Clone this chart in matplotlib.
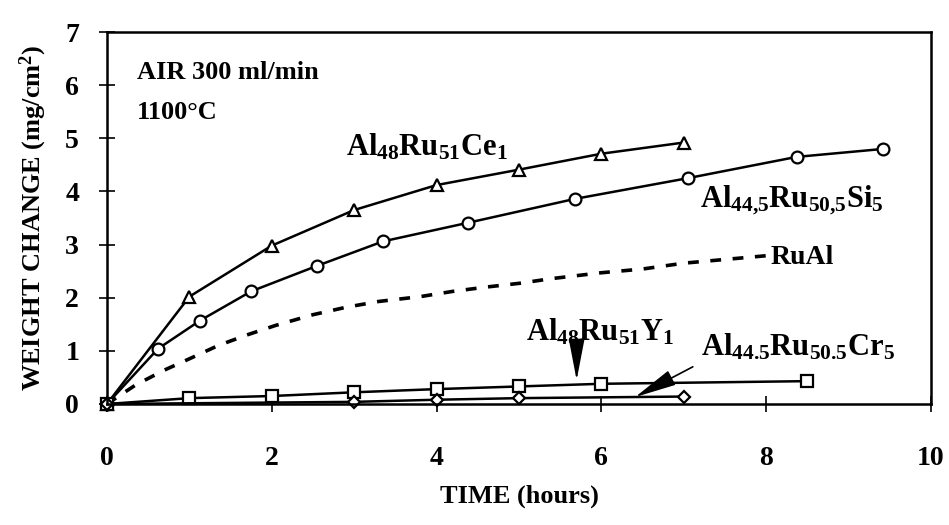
import matplotlib
matplotlib.use("Agg")
import matplotlib.pyplot as plt

plt.rcParams['font.family'] = ['Liberation Serif', 'DejaVu Serif']
plt.rcParams['font.weight'] = 'bold'
plt.rcParams['mathtext.fontset'] = 'custom'
plt.rcParams['mathtext.rm'] = 'Liberation Serif:bold'
plt.rcParams['mathtext.it'] = 'Liberation Serif:bold'
plt.rcParams['mathtext.bf'] = 'Liberation Serif:bold'

# values
ce_t = [0, 1, 2, 3, 4, 5, 6, 7]
ce_w = [0, 2.02, 2.98, 3.65, 4.12, 4.41, 4.71, 4.92]

si_t = [0, 0.62, 1.13, 1.75, 2.55, 3.35, 4.38, 5.68, 7.05, 8.37, 9.42]
si_w = [0, 1.04, 1.57, 2.12, 2.6, 3.06, 3.41, 3.86, 4.25, 4.65, 4.8]

rual_t = [0, 0.35, 0.7, 1.0, 1.35, 1.7, 2.05, 2.5, 2.9, 3.3, 3.8, 4.2, 4.6, 5.0,
          5.4, 6.0, 6.5, 7.0, 7.5, 8.0]
rual_w = [0, 0.36, 0.64, 0.85, 1.1, 1.3, 1.48, 1.68, 1.82, 1.93, 2.02, 2.12, 2.2,
          2.27, 2.36, 2.47, 2.54, 2.65, 2.72, 2.79]

y_t = [0, 1, 2, 3, 4, 5, 6, 8.5]
y_w = [0, 0.11, 0.15, 0.22, 0.28, 0.33, 0.38, 0.43]

cr_t = [0, 3, 4, 5, 7]
cr_w = [0, 0.04, 0.08, 0.11, 0.14]

fig = plt.figure(figsize=(9.49, 5.25), dpi=100)
ax = fig.add_axes([0.1127, 0.2305, 0.8683, 0.7085])

mk = dict(color='black', lw=1.8, markerfacecolor='white', markeredgecolor='black',
          markeredgewidth=1.6, clip_on=False)
ax.plot(ce_t, ce_w, marker='^', markersize=8, **mk)
ax.plot(si_t, si_w, marker='o', markersize=8.5, **mk)
ax.plot(rual_t, rual_w, color='black', lw=2.6, ls=(0, (3, 3.2)), clip_on=False)
ax.plot(y_t, y_w, marker='s', markersize=8.5, **mk)
ax.plot(cr_t, cr_w, marker='D', markersize=6, **mk)

ax.set_xlim(0, 10)
ax.set_ylim(0, 7)
ax.set_xticks([0, 2, 4, 6, 8, 10])
ax.set_yticks(range(0, 8))
ax.tick_params(direction='inout', length=12, width=1.2, labelsize=20)
ax.tick_params(axis='x', pad=24)
ax.tick_params(axis='y', pad=14)
for s in ax.spines.values():
    s.set_linewidth(1.8)

ax.set_xlabel('TIME (hours)', fontsize=19, fontweight='bold', labelpad=10)
ax.set_ylabel(r'WEIGHT CHANGE (mg/cm$^2$)', fontsize=19, fontweight='bold', labelpad=12)

ax.text(0.36, 6.23, 'AIR 300 ml/min', fontsize=19, fontweight='bold', va='center')
ax.text(0.36, 5.48, '1100°C', fontsize=19, fontweight='bold', va='center')

ax.text(3.88, 4.84, r'Al$_{48}$Ru$_{51}$Ce$_{1}$', fontsize=22, ha='center', va='center')
ax.text(8.31, 3.84, r'Al$_{44{,}5}$Ru$_{50{,}5}$Si$_{5}$', fontsize=22, ha='center', va='center')
ax.text(8.05, 2.75, 'RuAl', fontsize=20, fontweight='bold', ha='left', va='center')
ax.text(5.98, 1.35, r'Al$_{48}$Ru$_{51}$Y$_{1}$', fontsize=22, ha='center', va='center')
ax.text(8.39, 1.07, r'Al$_{44.5}$Ru$_{50.5}$Cr$_{5}$', fontsize=22, ha='center', va='center')

ax.annotate('', xy=(5.70, 0.45), xytext=(5.70, 1.24),
            arrowprops=dict(arrowstyle='-|>,head_length=2.6,head_width=0.5',
                            color='black', lw=1.2, shrinkA=0, shrinkB=0))
ax.annotate('', xy=(6.41, 0.13), xytext=(7.11, 0.70),
            arrowprops=dict(arrowstyle='-|>,head_length=2.6,head_width=0.5',
                            color='black', lw=1.2, shrinkA=0, shrinkB=0))

fig.savefig('out.png', dpi=100)
